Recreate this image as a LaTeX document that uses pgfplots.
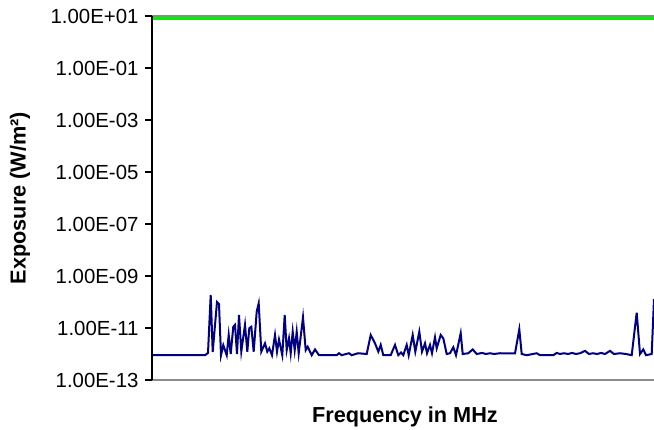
\documentclass[border=0pt]{standalone}
\usepackage{fontspec}
\setmainfont{Liberation Sans}
\usepackage{pgfplots}
\pgfplotsset{compat=1.18}
\definecolor{seriesblue}{RGB}{0,0,128}
\definecolor{limitgreen}{RGB}{0,240,0}
\definecolor{axisgray}{RGB}{140,140,140}

\begin{document}
\begin{tikzpicture}
\begin{axis}[
    at={(152bp,50bp)}, anchor=south west,
    scale only axis,
    width=502bp, height=364bp,
    ymode=log,
    xmin=0, xmax=502,
    ymin=1e-13, ymax=1e1,
    xtick=\empty,
    ytick={1e-13,1e-11,1e-9,1e-7,1e-5,1e-3,1e-1,1e1},
    yticklabels={1.00E-13,1.00E-11,1.00E-09,1.00E-07,1.00E-05,1.00E-03,1.00E-01,1.00E+01},
    yminorticks=false,
    tick align=outside,
    major tick length=7bp,
    tick style={black, line width=1.5bp},
    ticklabel style={font=\fontsize{20.4bp}{23bp}\selectfont},
    yticklabel style={xshift=-3bp},
    axis line style={draw=none},
    xlabel={\textbf{Frequency in MHz}},
    ylabel={\textbf{Exposure (W/m²)}},
    label style={font=\fontsize{21.7bp}{25bp}\selectfont},
    xlabel style={at={(axis description cs:0.504,-0.102)}, anchor=center},
    ylabel style={at={(axis description cs:-0.263,0.5)}, anchor=center},
    after end axis/.code={
        \draw[axisgray, line width=2bp] (rel axis cs:0,0) -- (rel axis cs:1,0);
        \draw[axisgray, line width=2bp] (rel axis cs:0,1) -- (rel axis cs:1,1);
        \draw[black, line width=2bp] (rel axis cs:0,0) -- (rel axis cs:0,1);
    },
]
% exposure limit
\addplot[limitgreen, line width=2.5bp] coordinates {(0,8) (502,8)};
% measured exposure
\addplot[seriesblue, line width=2bp] coordinates {
(0,9e-13) (53,9e-13) (56,1.1e-12) (58.7,1.86e-10) (60.7,1.2e-12)
(65,1.0e-10) (67,8.3e-11) (69,9e-13) (71.3,2.2e-12) (74.7,9e-13)
(76.7,5.4e-12) (78.7,1e-12) (81.3,1.12e-11) (83,1.32e-11) (85,1e-12)
(87,3.16e-11) (89.3,1.26e-12) (93,1.32e-11) (95.3,1.23e-12) (97.3,9.8e-12)
(99.3,1.12e-11) (101.7,1.23e-12) (104.7,4.27e-11) (106.7,8.9e-11) (109.3,1.23e-12)
(113,2.57e-12) (115.3,1.23e-12) (117.3,1.66e-12) (120,9e-13) (123,5.4e-12)
(125,1.23e-12) (127,3.6e-12) (130.3,9e-13) (132.7,3.16e-11) (134.7,1.41e-12)
(137,4.0e-12) (138.7,1.07e-12) (140.7,7.2e-12) (142.7,1.41e-12) (144.7,7.2e-12)
(146.7,1.07e-12) (151,2.57e-11) (153.7,1.41e-12) (155.7,1.9e-12) (159.7,9e-13)
(163,1.5e-12) (167,9e-13) (184.7,9e-13) (187,1.07e-12) (189.7,9e-13)
(197,1.07e-12) (199.7,9e-13) (206,1.07e-12) (214.7,1.0e-12) (218.7,5.4e-12)
(223,2.57e-12) (226.3,1.23e-12) (228.7,2.24e-12) (231.3,9e-13) (238.7,9e-13)
(243,2.24e-12) (246.3,9e-13) (249,1.15e-12) (251.3,9e-13) (254.7,2.24e-12)
(256.7,9e-13) (260.7,5.4e-12) (263.3,1.23e-12) (267.3,7.2e-12) (270,1.23e-12)
(273,2.57e-12) (275,1.07e-12) (278,2.24e-12) (280,1.07e-12) (283,4.4e-12)
(284.7,1.66e-12) (288.7,5.4e-12) (291.3,4.0e-12) (294.7,1.0e-12) (298,1.07e-12)
(301.3,1.82e-12) (304,9e-13) (308.7,6.3e-12) (310.7,1.0e-12) (316.3,1.07e-12)
(320.7,1.5e-12) (324.7,1.0e-12) (330,1.1e-12) (334,1.0e-12) (338,1.07e-12)
(342,1.0e-12) (348,1.07e-12) (363,1.05e-12) (367.3,8.9e-12) (369.7,1.0e-12)
(374.7,9e-13) (384.7,1.07e-12) (388,9e-13) (401.3,9e-13) (404.7,1.1e-12)
(408,1.0e-12) (412,1.07e-12) (416,1.0e-12) (420,1.1e-12) (424,1.0e-12)
(428,1.07e-12) (433,1.32e-12) (437,1.0e-12) (441,1.07e-12) (445,1.0e-12)
(449,1.1e-12) (453,1.0e-12) (458,1.32e-12) (462,1.0e-12) (468,1.07e-12)
(474,1.0e-12) (479.7,9e-13) (484.7,3.9e-11) (488,1.0e-12) (491.3,1.5e-12)
(494,9e-13) (499.7,1.0e-12) (502,1.3e-10)
};
\end{axis}
\pgfresetboundingbox
\useasboundingbox (0,0) rectangle (654bp,430bp);
\end{tikzpicture}
\end{document}
